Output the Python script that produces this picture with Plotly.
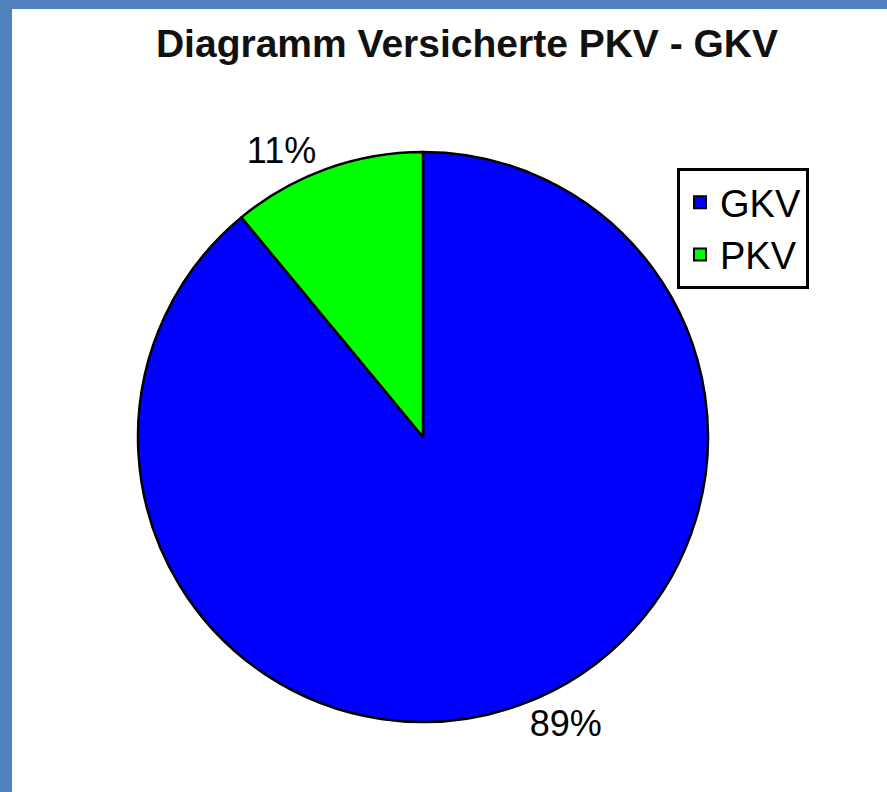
import plotly.graph_objects as go

labels = ["GKV", "PKV"]
values = [89, 11]
colors = ["#0000FF", "#00FF00"]
title_text = "Diagramm Versicherte PKV - GKV"

W, H = 887, 792
cx, cy, r = 423, 437, 285

fig = go.Figure()
fig.add_trace(go.Pie(
    labels=labels,
    values=values,
    sort=False,
    direction="clockwise",
    rotation=0,
    marker=dict(colors=colors, line=dict(color="black", width=2.5)),
    textinfo="percent",
    texttemplate="%{percent:.0%}",
    textposition="outside",
    outsidetextfont=dict(family="Liberation Sans, Arial", size=36, color="black"),
    domain=dict(x=[(cx - r) / W, (cx + r) / W], y=[(H - cy - r) / H, (H - cy + r) / H]),
    hoverinfo="label+percent",
))

fig.update_layout(
    width=W, height=H,
    margin=dict(l=0, r=0, t=0, b=0),
    paper_bgcolor="white",
    plot_bgcolor="white",
    title=dict(
        text=title_text,
        font=dict(family="Liberation Sans, Arial", size=39, color="#111111", weight="bold"),
        x=467 / W, xanchor="center", xref="paper",
        y=(H - 43) / H, yanchor="middle", yref="container",
    ),
    legend=dict(
        x=677 / W, y=1 - 168 / H, xanchor="left", yanchor="top",
        bordercolor="black", borderwidth=3, bgcolor="white",
        font=dict(family="Liberation Sans, Arial", size=38, color="black"),
        itemsizing="constant",
    ),
    shapes=[
        dict(type="rect", xref="paper", yref="paper", x0=0, x1=12 / W, y0=0, y1=1,
             fillcolor="#4F81BD", line=dict(width=0), layer="below"),
        dict(type="rect", xref="paper", yref="paper", x0=0, x1=1, y0=1 - 9 / H, y1=1,
             fillcolor="#4F81BD", line=dict(width=0), layer="below"),
    ],
)

fig.write_html("out.html", config={"displayModeBar": False},
               post_script="document.body.style.margin='0';")
